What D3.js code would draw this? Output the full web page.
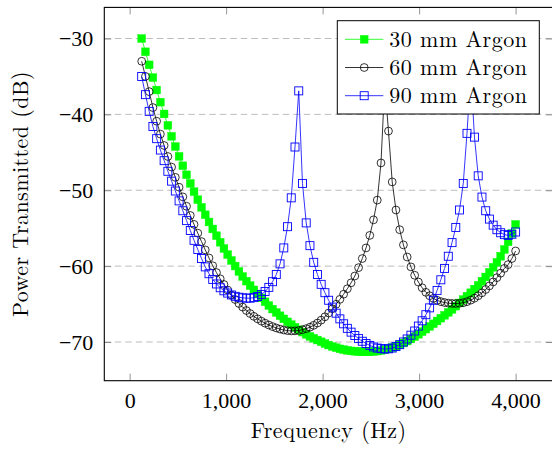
<!DOCTYPE html>
<html>
<head>
<meta charset="utf-8">
<script src="https://cdn.jsdelivr.net/npm/d3@7"></script>
<style>
  body { margin: 0; background: #fff; }
  svg { display: block; font-family: 'Latin Modern Roman', 'Liberation Serif', serif; }
</style>
</head>
<body>
<script>
// frequency grid (Hz), one entry per marker
const frequency = [
  125, 163.75, 202.5, 241.25, 280, 318.75, 357.5, 396.25, 435, 473.75,
  512.5, 551.25, 590, 628.75, 667.5, 706.25, 745, 783.75, 822.5, 861.25,
  900, 938.75, 977.5, 1016.25, 1055, 1093.75, 1132.5, 1171.25, 1210, 1248.75,
  1287.5, 1326.25, 1365, 1403.75, 1442.5, 1481.25, 1520, 1558.75, 1597.5, 1636.25,
  1675, 1713.75, 1752.5, 1791.25, 1830, 1868.75, 1907.5, 1946.25, 1985, 2023.75,
  2062.5, 2101.25, 2140, 2178.75, 2217.5, 2256.25, 2295, 2333.75, 2372.5, 2411.25,
  2450, 2488.75, 2527.5, 2566.25, 2605, 2643.75, 2682.5, 2721.25, 2760, 2798.75,
  2837.5, 2876.25, 2915, 2953.75, 2992.5, 3031.25, 3070, 3108.75, 3147.5, 3186.25,
  3225, 3263.75, 3302.5, 3341.25, 3380, 3418.75, 3457.5, 3496.25, 3535, 3573.75,
  3612.5, 3651.25, 3690, 3728.75, 3767.5, 3806.25, 3845, 3883.75, 3922.5, 3961.25,
  4000
];

// power transmitted (dB)
const argon30 = [
  -30.0, -31.75, -33.47, -35.15, -36.79, -38.39, -39.94, -41.44, -42.89, -44.24,
  -45.53, -46.77, -47.96, -49.1, -50.19, -51.24, -52.25, -53.23, -54.18, -55.1,
  -55.99, -56.85, -57.68, -58.48, -59.25, -59.99, -60.7, -61.36, -61.98, -62.57,
  -63.13, -63.67, -64.19, -64.7, -65.19, -65.66, -66.11, -66.54, -66.95, -67.34,
  -67.71, -68.06, -68.39, -68.7, -68.99, -69.26, -69.51, -69.74, -69.97, -70.2,
  -70.4, -70.6, -70.75, -70.9, -71.0, -71.1, -71.17, -71.22, -71.26, -71.28,
  -71.29, -71.28, -71.25, -71.2, -71.12, -71.02, -70.9, -70.75, -70.57, -70.36,
  -70.13, -69.88, -69.6, -69.3, -68.98, -68.64, -68.3, -67.95, -67.6, -67.23,
  -66.86, -66.48, -66.09, -65.7, -65.28, -64.85, -64.41, -63.96, -63.51, -63.03,
  -62.53, -61.99, -61.43, -60.82, -60.15, -59.5, -58.7, -57.8, -56.8, -55.7,
  -54.5
];

const argon60 = [
  -33.0, -35.0, -37.0, -39.1, -40.9, -42.6, -44.1, -45.55, -46.95, -48.3,
  -49.6, -50.87, -52.11, -53.32, -54.5, -55.65, -56.77, -57.86, -58.92, -59.95,
  -60.85, -61.67, -62.42, -63.15, -63.82, -64.4, -64.92, -65.4, -65.85, -66.25,
  -66.62, -66.95, -67.25, -67.52, -67.76, -67.97, -68.15, -68.3, -68.42, -68.5,
  -68.54, -68.53, -68.48, -68.38, -68.24, -68.05, -67.8, -67.5, -67.12, -66.68,
  -66.18, -65.62, -65.02, -64.38, -63.7, -62.98, -62.2, -61.3, -60.2, -59.0,
  -57.6, -55.95, -53.9, -51.3, -46.4, -36.0, -42.2, -48.9, -52.6, -55.2,
  -57.2, -58.8, -60.1, -61.2, -62.1, -62.85, -63.45, -63.9, -64.25, -64.5,
  -64.68, -64.8, -64.88, -64.92, -64.93, -64.9, -64.82, -64.68, -64.48, -64.22,
  -63.9, -63.52, -63.08, -62.6, -62.08, -61.52, -60.93, -60.3, -59.8, -59.0,
  -58.0
];

const argon90 = [
  -35.0, -37.4, -39.6, -41.6, -43.2, -44.7, -46.1, -47.5, -48.8, -50.1,
  -51.4, -52.7, -54.0, -55.3, -56.6, -57.8, -59.0, -60.1, -61.0, -61.75,
  -62.35, -62.85, -63.25, -63.55, -63.8, -63.98, -64.1, -64.18, -64.22, -64.22,
  -64.15, -64.0, -63.75, -63.35, -62.8, -62.05, -61.1, -59.7, -57.6, -54.8,
  -51.0, -44.3, -36.9, -49.1, -54.3, -57.3, -59.5, -61.1, -62.4, -63.5,
  -64.5, -65.4, -66.2, -66.95, -67.6, -68.2, -68.7, -69.15, -69.55, -69.9,
  -70.2, -70.45, -70.65, -70.8, -70.88, -70.92, -70.9, -70.8, -70.6, -70.35,
  -70.0, -69.6, -69.1, -68.55, -67.9, -67.2, -66.4, -65.5, -64.5, -63.2,
  -61.8, -60.3, -58.7, -56.9, -54.9, -52.6, -49.1, -42.5, -34.5, -43.0,
  -48.1, -50.9, -52.7, -53.8, -54.6, -55.2, -55.6, -55.85, -55.95, -55.8,
  -55.5
];

const seriesNames = ['30 mm Argon', '60 mm Argon', '90 mm Argon'];
const xTicks = [0, 1000, 2000, 3000, 4000];
const yTicks = [-70, -60, -50, -40, -30];

const width = 552;
const height = 450;
const plotLeft = 104.3, plotRight = 553, plotTop = 7.4, plotBottom = 380.7;
const fontSize = 22;
let x;
let y;

const svg = d3.select('body').append('svg')
  .attr('width', width)
  .attr('height', height);

const series = [
  { name: seriesNames[0], values: argon30, color: '#00ff00', mark: 'fsquare' },
  { name: seriesNames[1], values: argon60, color: '#000000', mark: 'circle' },
  { name: seriesNames[2], values: argon90, color: '#0000ff', mark: 'square' },
];

function generateScales() {
  x = d3.scaleLinear().domain([-262.5, 4387.5]).range([plotLeft, plotRight]);
  y = d3.scaleLinear().domain([-75.1, -25.9]).range([plotBottom, plotTop]);
}

function drawGrid() {
  svg.append('g')
    .selectAll('line')
    .data(yTicks)
    .enter()
    .append('line')
    .attr('x1', plotLeft)
    .attr('x2', plotRight)
    .attr('y1', (d) => y(d))
    .attr('y2', (d) => y(d))
    .attr('stroke', '#bdbdbd')
    .attr('stroke-width', 1)
    .attr('stroke-dasharray', '6.5,4');
}

function drawAxes() {
  const styleTicks = (g) => {
    g.select('.domain').remove();
    g.selectAll('.tick line').attr('stroke', '#7a7a7a').attr('stroke-width', 0.8);
    g.selectAll('.tick text')
      .attr('fill', '#000')
      .style('font-size', fontSize + 'px')
      .style('font-family', "'Liberation Serif', serif");
  };

  const xAxis = d3.axisBottom(x)
    .tickValues(xTicks)
    .tickSize(-7)
    .tickPadding(12)
    .tickFormat(d3.format(','));
  svg.append('g')
    .attr('transform', `translate(0, ${plotBottom})`)
    .call(xAxis)
    .call(styleTicks);

  svg.append('g')
    .attr('transform', `translate(0, ${plotTop})`)
    .call(d3.axisTop(x).tickValues(xTicks).tickSize(-7).tickFormat(''))
    .call(styleTicks);

  const yAxis = d3.axisLeft(y)
    .tickValues(yTicks)
    .tickSize(-7)
    .tickPadding(11)
    .tickFormat((d) => '\u2212' + Math.abs(d));
  svg.append('g')
    .attr('transform', `translate(${plotLeft}, 0)`)
    .call(yAxis)
    .call(styleTicks);

  svg.append('g')
    .attr('transform', `translate(${plotRight}, 0)`)
    .call(d3.axisRight(y).tickValues(yTicks).tickSize(-7).tickFormat(''))
    .call(styleTicks);

  svg.append('rect')
    .attr('x', plotLeft)
    .attr('y', plotTop)
    .attr('width', plotRight - plotLeft)
    .attr('height', plotBottom - plotTop)
    .attr('fill', 'none')
    .attr('stroke', '#000')
    .attr('stroke-width', 1.1);

  svg.append('text')
    .attr('x', (plotLeft + plotRight) / 2)
    .attr('y', 438)
    .attr('text-anchor', 'middle')
    .style('font-size', fontSize + 'px')
    .style('letter-spacing', '0.5px')
    .text('Frequency (Hz)');

  svg.append('text')
    .attr('transform', `translate(28, ${(plotTop + plotBottom) / 2}) rotate(-90)`)
    .attr('text-anchor', 'middle')
    .style('font-size', fontSize + 'px')
    .style('letter-spacing', '0.45px')
    .text('Power Transmitted (dB)');
}

function drawMark(g, kind, color, cx, cy) {
  if (kind === 'circle') {
    g.append('circle')
      .attr('cx', cx).attr('cy', cy).attr('r', 3.9)
      .attr('fill', 'none').attr('stroke', color).attr('stroke-width', 0.8);
  } else {
    const s = kind === 'fsquare' ? 7.8 : 8;
    g.append('rect')
      .attr('x', cx - s / 2).attr('y', cy - s / 2)
      .attr('width', s).attr('height', s)
      .attr('fill', kind === 'fsquare' ? color : 'none')
      .attr('stroke', color)
      .attr('stroke-width', kind === 'fsquare' ? 0.4 : 0.9);
  }
}

function drawSeries() {
  svg.append('clipPath').attr('id', 'plot-clip')
    .append('rect')
    .attr('x', plotLeft).attr('y', plotTop)
    .attr('width', plotRight - plotLeft).attr('height', plotBottom - plotTop);

  const line = d3.line()
    .x((d, i) => x(frequency[i]))
    .y((d) => y(d));

  series.forEach((s) => {
    const g = svg.append('g');
    g.append('path')
      .datum(s.values)
      .attr('clip-path', 'url(#plot-clip)')
      .attr('d', line)
      .attr('fill', 'none')
      .attr('stroke', s.color)
      .attr('stroke-width', 0.8);
    s.values.forEach((v, i) => drawMark(g, s.mark, s.color, x(frequency[i]), y(v)));
  });
}

function drawLegend() {
  const lx = 337.3, ly = 20.7, lw = 202, lh = 93.3;
  const g = svg.append('g');
  g.append('rect')
    .attr('x', lx).attr('y', ly)
    .attr('width', lw).attr('height', lh)
    .attr('fill', '#fff')
    .attr('stroke', '#000')
    .attr('stroke-width', 1);

  series.forEach((s, i) => {
    const cy = 39.3 + i * 28.2;
    g.append('line')
      .attr('x1', 345).attr('x2', 383.3)
      .attr('y1', cy).attr('y2', cy)
      .attr('stroke', s.color)
      .attr('stroke-width', 0.8);
    drawMark(g, s.mark, s.color, 364.2, cy);
    g.append('text')
      .attr('x', 389.3)
      .attr('y', cy)
      .attr('dy', '0.33em')
      .style('font-size', fontSize + 'px')
      .style('letter-spacing', '0.5px')
      .text(s.name);
  });
}

generateScales();
drawGrid();
drawAxes();
drawSeries();
drawLegend();
</script>
</body>
</html>
